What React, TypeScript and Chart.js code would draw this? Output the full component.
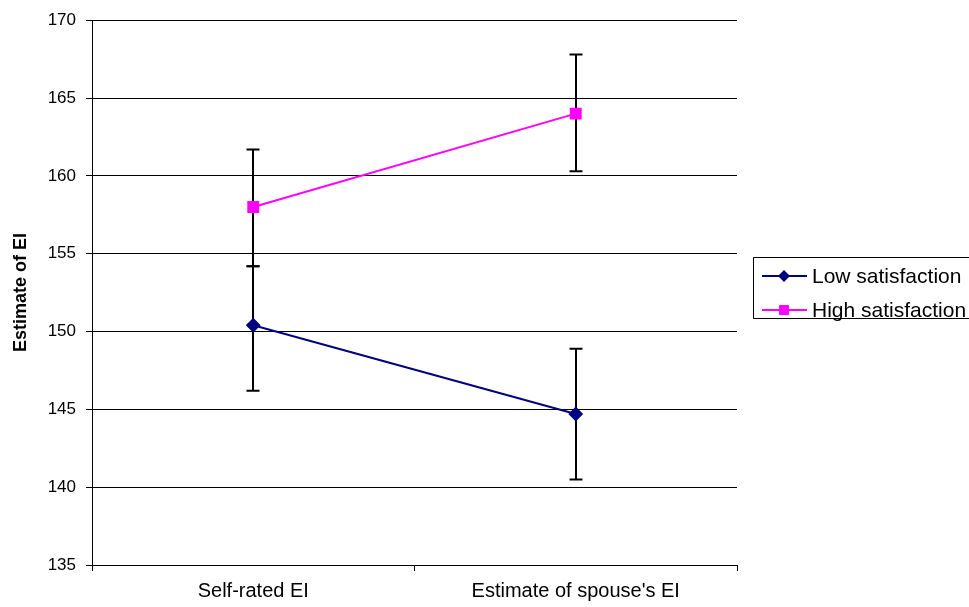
import React, { useEffect, useRef } from "react";
import { Chart, registerables } from "chart.js";

Chart.register(...registerables);

const categories = ["Self-rated EI", "Estimate of spouse's EI"];
const lowMeans = [150.4, 144.7];
const lowUpper = [154.2, 148.9];
const lowLower = [146.2, 140.5];
const highMeans = [158.0, 164.0];
const highUpper = [161.7, 167.8];
const highLower = [154.2, 160.3];
const seriesNames = ["Low satisfaction", "High satisfaction"];
const yMin = 135;
const yMax = 170;
const yStep = 5;
const yTitle = "Estimate of EI";

const FONT = "'Liberation Sans', Arial, sans-serif";

const errorBarPlugin = {
  id: "errorBars",
  beforeDatasetsDraw(chart: any) {
    const { ctx, scales } = chart;
    const x = scales.x;
    const y = scales.y;
    const sets = [
      { lo: lowLower, hi: lowUpper },
      { lo: highLower, hi: highUpper },
    ];
    ctx.save();
    ctx.strokeStyle = "#000";
    ctx.lineWidth = 2;
    sets.forEach((s) => {
      s.lo.forEach((lo, i) => {
        const px = Math.round(x.getPixelForValue(i)) + 0.0;
        const yl = y.getPixelForValue(lo);
        const yh = y.getPixelForValue(s.hi[i]);
        ctx.beginPath();
        ctx.moveTo(px, yl);
        ctx.lineTo(px, yh);
        ctx.moveTo(px - 6.5, yl);
        ctx.lineTo(px + 6.5, yl);
        ctx.moveTo(px - 6.5, yh);
        ctx.lineTo(px + 6.5, yh);
        ctx.stroke();
      });
    });
    ctx.restore();
  },
};

const legendPlugin = {
  id: "customLegend",
  afterDraw(chart: any) {
    const { ctx } = chart;
    const boxL = 753.5;
    const boxT = 257.5;
    const boxB = 318.5;
    ctx.save();
    ctx.strokeStyle = "#000";
    ctx.lineWidth = 1;
    ctx.beginPath();
    ctx.moveTo(975, boxT);
    ctx.lineTo(boxL, boxT);
    ctx.lineTo(boxL, boxB);
    ctx.lineTo(975, boxB);
    ctx.stroke();
    const rows = [276, 310];
    chart.data.datasets.forEach((ds: any, i: number) => {
      const ry = rows[i];
      ctx.strokeStyle = ds.borderColor;
      ctx.lineWidth = 2;
      ctx.beginPath();
      ctx.moveTo(762, ry);
      ctx.lineTo(807, ry);
      ctx.stroke();
      ctx.fillStyle = ds.pointBackgroundColor;
      ctx.strokeStyle = ds.pointBorderColor;
      ctx.lineWidth = 1;
      (Chart as any).helpers?.drawPoint
        ? null
        : null;
      ctx.beginPath();
      if (ds.pointStyle === "rectRot") {
        const r = ds.pointRadius;
        ctx.moveTo(784 - r, ry);
        ctx.lineTo(784, ry - r);
        ctx.lineTo(784 + r, ry);
        ctx.lineTo(784, ry + r);
        ctx.closePath();
      } else {
        const s = ds.pointRadius * Math.SQRT1_2;
        ctx.rect(784 - s, ry - s, 2 * s, 2 * s);
      }
      ctx.fill();
      ctx.fillStyle = "#000";
      ctx.font = `21px ${FONT}`;
      ctx.textBaseline = "middle";
      ctx.textAlign = "left";
      ctx.fillText(ds.label, 812, ry + 1);
    });
    ctx.restore();
  },
};

export default function App() {
  const ref = useRef<HTMLCanvasElement | null>(null);
  useEffect(() => {
    if (!ref.current) return;
    const chart = new Chart(ref.current, {
      type: "line",
      data: {
        labels: categories,
        datasets: [
          {
            label: seriesNames[0],
            data: lowMeans,
            borderColor: "#000080",
            backgroundColor: "#000080",
            pointBackgroundColor: "#000080",
            pointBorderColor: "#000080",
            pointStyle: "rectRot",
            pointRadius: 6,
            borderWidth: 2,
            tension: 0,
          },
          {
            label: seriesNames[1],
            data: highMeans,
            borderColor: "#FF00FF",
            backgroundColor: "#FF00FF",
            pointBackgroundColor: "#FF00FF",
            pointBorderColor: "#FF00FF",
            pointStyle: "rect",
            pointRadius: 7,
            borderWidth: 2,
            tension: 0,
          },
        ],
      },
      options: {
        responsive: false,
        animation: false,
        layout: { padding: { top: 19, right: 232, bottom: 0, left: 0 } },
        plugins: {
          legend: { display: false },
          tooltip: { enabled: false },
        },
        scales: {
          x: {
            offset: true,
            afterFit: (s: any) => {
              s.height = 42;
            },
            grid: {
              offset: true,
              drawOnChartArea: false,
              drawTicks: true,
              tickLength: 6,
              color: "#000",
            },
            border: { color: "#000", width: 1 },
            ticks: {
              color: "#000",
              font: { family: FONT, size: 20 },
              padding: 8,
              maxRotation: 0,
            },
          },
          y: {
            min: yMin,
            max: yMax,
            afterFit: (s: any) => {
              s.width = 92;
            },
            grid: {
              color: "#000",
              lineWidth: 1,
              drawTicks: true,
              tickLength: 6,
            },
            border: { color: "#000", width: 1 },
            ticks: {
              stepSize: yStep,
              color: "#000",
              font: { family: FONT, size: 17 },
              padding: 10,
            },
            title: {
              display: true,
              text: yTitle,
              color: "#000",
              font: { family: FONT, size: 18, weight: "bold" },
              padding: { top: 10, bottom: 0 },
            },
          },
        },
      },
      plugins: [errorBarPlugin, legendPlugin],
    });
    return () => chart.destroy();
  }, []);
  return (
    <div style={{ position: "absolute", left: 0, top: 0, width: 969, height: 607, background: "#fff" }}>
      <canvas ref={ref} width={969} height={607} />
    </div>
  );
}
